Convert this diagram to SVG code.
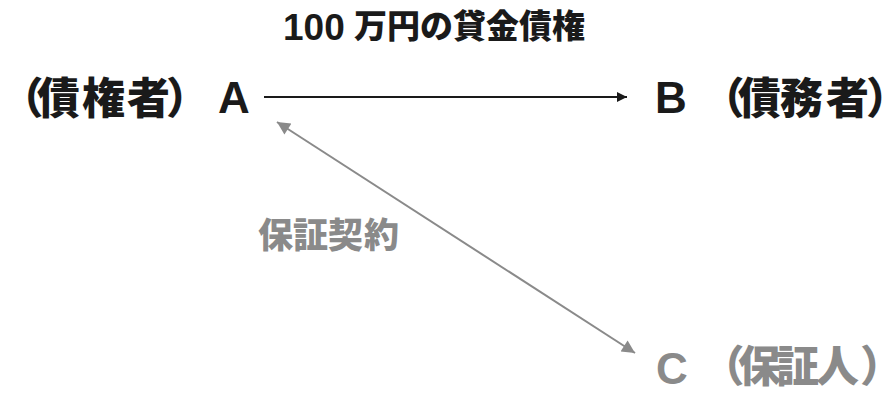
<svg xmlns="http://www.w3.org/2000/svg" width="890" height="394" viewBox="0 0 890 394">
<defs>
<style>
.dark{fill:#1a1a1a}
.gray{fill:#8a8a8a}
.lat{font-family:"Liberation Sans",sans-serif;font-weight:bold}
.cjk{font-family:"Noto Sans CJK JP",sans-serif;font-weight:900;font-feature-settings:"palt"}
.big{font-size:43px}
.latin{font-size:44px}
</style>
<marker id="ahBlack" viewBox="0 0 10 10" refX="10" refY="5" markerWidth="15" markerHeight="10" markerUnits="userSpaceOnUse" orient="auto"><path d="M0,0 L10,5 L0,10 z" fill="#1a1a1a"/></marker>
<marker id="ahGray" viewBox="0 0 10 10" refX="10" refY="5" markerWidth="17" markerHeight="13" markerUnits="userSpaceOnUse" orient="auto-start-reverse"><path d="M0,0 L10,5 L0,10 z" fill="#8a8a8a"/></marker>
</defs>
<rect width="890" height="394" fill="#ffffff"/>
<g id="title">
<text class="dark lat" x="283" y="40" font-size="37">100</text>
<text class="dark cjk" x="354 387 420 453 486 519 552" y="38" font-size="33">万円の貸金債権</text>
</g>
<g id="nodeA">
<text class="dark cjk big" x="20 37 82 127 168" y="114">（債権者）</text>
<text class="dark lat latin" x="218" y="113">A</text>
</g>
<g id="nodeB">
<text class="dark lat latin" x="655" y="113">B</text>
<text class="dark cjk big" x="721 738 780 826 868" y="114">（債務者）</text>
</g>
<g id="nodeC">
<text class="gray lat latin" x="656" y="384">C</text>
<text class="gray cjk big" x="721 738 776 816 862" y="382">（保証人）</text>
</g>
<g id="contractLabel">
<text class="gray cjk" x="258 293 328 364" y="248" font-size="35">保証契約</text>
</g>
<g id="connectors">
<line x1="264" y1="97" x2="627" y2="97" stroke="#1a1a1a" stroke-width="2" marker-end="url(#ahBlack)"/>
<line x1="277" y1="122" x2="635" y2="353" stroke="#8a8a8a" stroke-width="2" marker-start="url(#ahGray)" marker-end="url(#ahGray)"/>
</g>
</svg>
